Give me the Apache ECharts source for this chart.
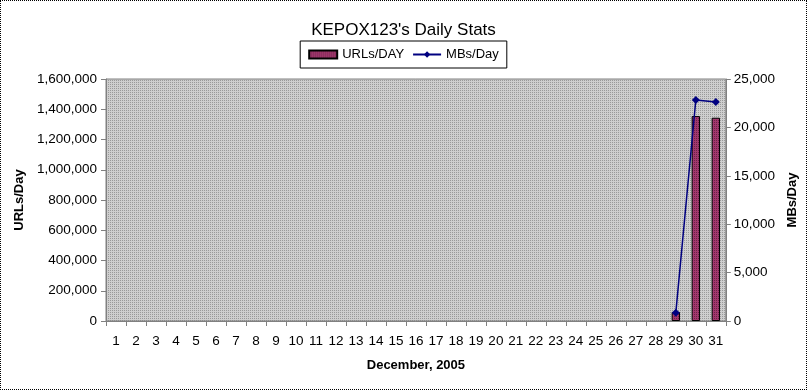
<!DOCTYPE html>
<html><head><meta charset="utf-8">
<script src="https://cdn.jsdelivr.net/npm/echarts@6/dist/echarts.min.js"></script>
<style>
html,body{margin:0;padding:0;background:#fff;}
#wrap{position:absolute;left:0;top:0;width:805px;height:388px;border:1px dotted #000;}
#c{width:807px;height:390px;position:absolute;left:0;top:0;}
</style></head>
<body><div id="wrap"></div><div id="c"></div>
<script>
const days = ['1','2','3','4','5','6','7','8','9','10','11','12','13','14','15','16','17','18','19','20','21','22','23','24','25','26','27','28','29','30','31'];
const urlsPerDay = [null,null,null,null,null,null,null,null,null,null,null,null,null,null,null,null,null,null,null,null,null,null,null,null,null,null,null,null,60000,1355000,1344000];
const mbsPerDay = [null,null,null,null,null,null,null,null,null,null,null,null,null,null,null,null,null,null,null,null,null,null,null,null,null,null,null,null,860,22830,22620];
const leftTicks = {min:0,max:1600000,interval:200000};
const rightTicks = {min:0,max:25000,interval:5000};

function pattern(bg, dot){
  const cv=document.createElement('canvas');cv.width=2;cv.height=2;
  const g=cv.getContext('2d');g.fillStyle=bg;g.fillRect(0,0,2,2);
  g.fillStyle=dot;g.fillRect(0,0,1,1);
  return {image:cv,repeat:'repeat'};
}
const fmt = v => v.toLocaleString('en-US');
const chart = echarts.init(document.getElementById('c'));
const font = 'Liberation Sans, Arial, sans-serif';
chart.setOption({
  animation:false,
  textStyle:{fontFamily:font},
  title:{text:"KEPOX123's Daily Stats",left:'center',top:17,textStyle:{fontSize:17,fontWeight:'normal',color:'#000',fontFamily:font}},
  legend:{top:41,left:'center',itemGap:8,padding:[7,8,7,8],borderColor:'#000',borderWidth:1,
    backgroundColor:'#fff',
    textStyle:{fontSize:13,color:'#000',fontFamily:font},itemWidth:28,itemHeight:8,
    data:[{name:'URLs/DAY',icon:'rect'},{name:'MBs/Day'}]},
  grid:{left:106,right:79,top:79,bottom:69,show:true,backgroundColor:pattern('#cfcfcf','#9a9a9a'),borderColor:'#808080',borderWidth:1},
  xAxis:{type:'category',data:days,name:'December, 2005',nameLocation:'middle',nameGap:38,
    nameTextStyle:{fontWeight:'bold',fontSize:13,color:'#000'},
    axisLine:{lineStyle:{color:'#808080'}},axisTick:{show:true,length:5,inside:false,lineStyle:{color:'#808080'}},
    axisLabel:{fontSize:13.5,color:'#000',margin:13,interval:0}},
  yAxis:[
    {type:'value',min:leftTicks.min,max:leftTicks.max,interval:leftTicks.interval,name:'URLs/Day',nameLocation:'middle',nameGap:78,nameRotate:90,
     nameTextStyle:{fontWeight:'bold',fontSize:13,color:'#000'},
     axisLine:{show:true,lineStyle:{color:'#808080'}},axisTick:{show:true,length:5,lineStyle:{color:'#808080'}},
     splitLine:{show:false},axisLabel:{fontSize:13.5,color:'#000',margin:9,formatter:fmt}},
    {type:'value',min:rightTicks.min,max:rightTicks.max,interval:rightTicks.interval,name:'MBs/Day',nameLocation:'middle',nameGap:55,nameRotate:90,
     nameTextStyle:{fontWeight:'bold',fontSize:13,color:'#000'},position:'right',
     axisLine:{show:true,lineStyle:{color:'#808080'}},axisTick:{show:true,length:5,lineStyle:{color:'#808080'}},
     splitLine:{show:false},axisLabel:{fontSize:13.5,color:'#000',margin:8,formatter:fmt}}
  ],
  series:[
    {name:'URLs/DAY',type:'bar',data:urlsPerDay,yAxisIndex:0,barWidth:'42%',
     itemStyle:{color:pattern('#a3386e','#6a2046'),borderColor:'#000',borderWidth:1}},
    {name:'MBs/Day',type:'line',data:mbsPerDay,yAxisIndex:1,symbol:'diamond',symbolSize:8,
     connectNulls:false,lineStyle:{color:'#000080',width:1.5},itemStyle:{color:'#000080'}}
  ]
});
</script></body></html>
